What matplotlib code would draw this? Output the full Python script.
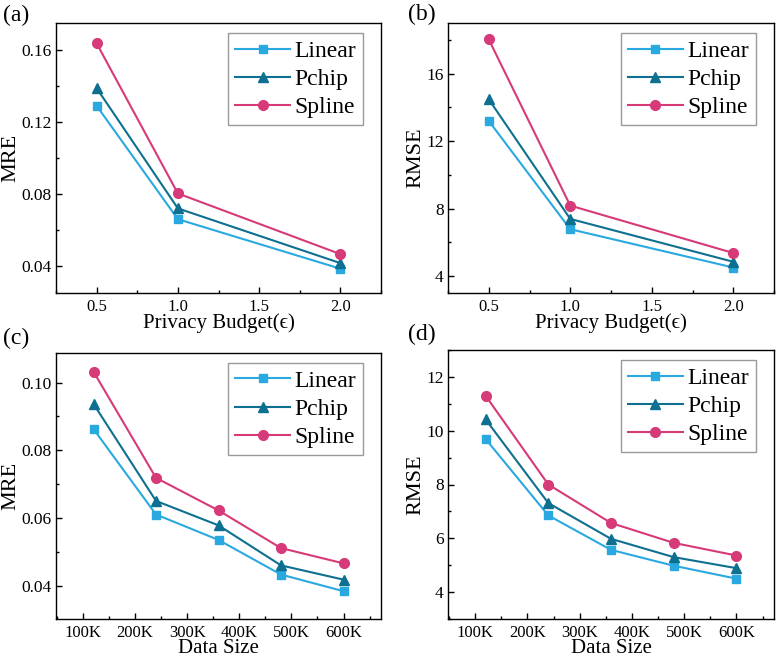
import numpy as np
import matplotlib
matplotlib.use('Agg')
import matplotlib.pyplot as plt
from matplotlib.ticker import MultipleLocator, FuncFormatter

plt.rcParams['font.family'] = ['Liberation Serif', 'DejaVu Serif']
plt.rcParams['xtick.direction'] = 'in'
plt.rcParams['ytick.direction'] = 'in'

# data
budget = [0.5, 1.0, 2.0]
mre_budget = {
    'Linear': [0.129, 0.066, 0.0385],
    'Pchip': [0.1388, 0.072, 0.0416],
    'Spline': [0.1637, 0.0803, 0.0466],
}
rmse_budget = {
    'Linear': [13.2, 6.78, 4.51],
    'Pchip': [14.48, 7.39, 4.85],
    'Spline': [18.03, 8.18, 5.37],
}

data_size = [120000, 240000, 360000, 480000, 600000]
mre_size = {
    'Linear': [0.0863, 0.0611, 0.0536, 0.0434, 0.0385],
    'Pchip': [0.0937, 0.0651, 0.0579, 0.0461, 0.0419],
    'Spline': [0.1032, 0.0719, 0.0623, 0.0512, 0.0467],
}
rmse_size = {
    'Linear': [9.69, 6.85, 5.57, 4.98, 4.5],
    'Pchip': [10.42, 7.31, 5.98, 5.3, 4.89],
    'Spline': [11.3, 8.0, 6.57, 5.83, 5.36],
}

styles = {
    'Linear': dict(color='#2aa9e0', marker='s', ms=6.2),
    'Pchip': dict(color='#0e7090', marker='^', ms=7.2),
    'Spline': dict(color='#d63a78', marker='o', ms=7.0),
}

W, H = 776, 663
fig = plt.figure(figsize=(W / 100, H / 100), dpi=100)


def add_axes(l, r, t, b):
    return fig.add_axes([l / W, 1 - b / H, (r - l) / W, (b - t) / H])


def draw(ax, x, series, xlim, ylim, ymaj, ymin, xmaj, xmin, ylabel, xlabel):
    for name, vals in series.items():
        ax.plot(x, vals, label=name, lw=1.5, **styles[name])
    ax.set_xlim(*xlim)
    ax.set_ylim(*ylim)
    ax.yaxis.set_major_locator(MultipleLocator(ymaj))
    ax.yaxis.set_minor_locator(MultipleLocator(ymin))
    ax.xaxis.set_major_locator(MultipleLocator(xmaj))
    ax.xaxis.set_minor_locator(MultipleLocator(xmin))
    ax.tick_params(which='major', length=4, width=1, labelsize=12.5, pad=3)
    ax.tick_params(axis='x', which='major', labelsize=12, pad=4)
    ax.tick_params(which='minor', length=2.5, width=1)
    for s in ax.spines.values():
        s.set_linewidth(1.0)
    ax.set_ylabel(ylabel, fontsize=16, labelpad=1)
    ax.set_xlabel(xlabel, fontsize=15, labelpad=-1)
    leg = ax.legend(loc='upper right', bbox_to_anchor=(0.945, 0.962), fontsize=17,
                    frameon=True, fancybox=False, edgecolor='#808080',
                    handlelength=2.3, handletextpad=0.2, borderpad=0.3,
                    labelspacing=0.28, borderaxespad=0)
    leg.get_frame().set_linewidth(1.0)


def tag(x, y, s):
    fig.text(x / W, 1 - y / H, s, fontsize=17, ha='left', va='baseline')


ax_a = add_axes(56, 381, 23, 293)
draw(ax_a, budget, mre_budget, (0.25, 2.25), (0.025, 0.175), 0.04, 0.02, 0.5, 0.25,
     'MRE', 'Privacy Budget(ϵ)')
ax_a.yaxis.set_major_formatter(FuncFormatter(lambda v, p: f'{v:.2f}'))

ax_b = add_axes(448, 774, 23, 293)
draw(ax_b, budget, rmse_budget, (0.25, 2.25), (3, 19), 4, 2, 0.5, 0.25,
     'RMSE', 'Privacy Budget(ϵ)')

k_fmt = FuncFormatter(lambda v, p: f'{int(round(v / 1000))}K')

ax_c = add_axes(56, 381, 353, 619)
draw(ax_c, data_size, mre_size, (48000, 672000), (0.0303, 0.1087), 0.02, 0.01, 100000, 50000,
     'MRE', 'Data Size')
ax_c.yaxis.set_major_formatter(FuncFormatter(lambda v, p: f'{v:.2f}'))
ax_c.xaxis.set_major_formatter(k_fmt)

ax_d = add_axes(448, 774, 350, 619)
draw(ax_d, data_size, rmse_size, (48000, 672000), (3, 13), 2, 1, 100000, 50000,
     'RMSE', 'Data Size')
ax_d.xaxis.set_major_formatter(k_fmt)

tag(3, 21, '(a)')
tag(408, 20, '(b)')
tag(3, 344, '(c)')
tag(408, 340, '(d)')

fig.savefig('out.png', dpi=100)
